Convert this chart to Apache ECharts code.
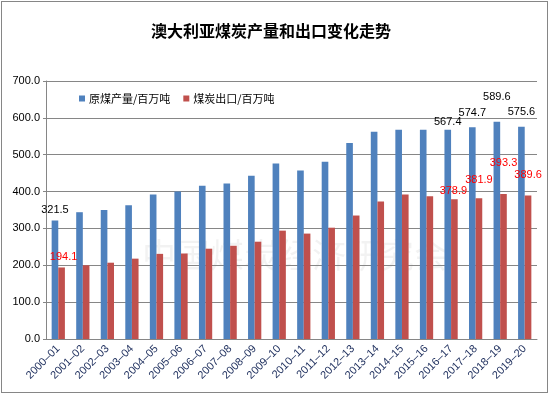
<!DOCTYPE html>
<html><head><meta charset="utf-8">
<script src="https://cdn.jsdelivr.net/npm/echarts@6/dist/echarts.min.js"></script>
<style>html,body{margin:0;padding:0;background:#fff}#c{position:absolute;left:1px;top:1px;width:545px;height:390px;border:1px solid #868686}</style>
</head><body><div id="c"></div>
<script>
var categories = ['2000–01','2001–02','2002–03','2003–04','2004–05','2005–06','2006–07','2007–08','2008–09','2009–10','2010–11','2011–12','2012–13','2013–14','2014–15','2015–16','2016–17','2017–18','2018–19','2019–20'];
var production = [321.5,344,350,363,392,400,416,422,443,476,457,481,532,562,568,568,567.4,574.7,589.6,575.6];
var exports = [194.1,200,207,218,231,232,245,253,264,294,286,302,335,373,392,387,378.9,381.9,393.3,389.6];
var yTicks = [0,100,200,300,400,500,600,700];
var seriesNames = ['原煤产量/百万吨','煤炭出口/百万吨'];

var prodLabelOffsets = {0:[0,-2], 16:[0,1], 17:[0,-6], 18:[0,-16], 19:[0,-6]};
var expLabelOffsets = {0:[2,-2], 16:[-1,0], 17:[0,-10], 18:[0,-23], 19:[0,-12]};

function build(vals, offsets, color) {
  return vals.map(function (v, i) {
    var o = { value: v };
    if (offsets[i]) {
      o.label = { show: true, position: 'top', offset: offsets[i], color: color, fontSize: 11, distance: 3,
        formatter: function (p) { return p.value.toFixed(1); } };
    }
    return o;
  });
}

var chart = echarts.init(document.getElementById('c'));
chart.setOption({
  animation: false,
  title: { text: '澳大利亚煤炭产量和出口变化走势', left: 264, top: 16, textAlign: 'center',
    textStyle: { fontSize: 16, fontWeight: 'bold', color: '#000', fontFamily: 'Noto Sans CJK SC' } },
  legend: { top: 86, left: 72, itemWidth: 6, itemHeight: 6, itemGap: 13, icon: 'rect',
    textStyle: { fontSize: 11, color: '#000', fontFamily: 'Noto Sans CJK SC', padding: [0, 0, 0, -1] },
    data: seriesNames },
  graphic: [{ type: 'text', left: 140, top: 236, z: 0, silent: true,
    style: { text: '中国煤炭经济研究会', fontSize: 34, fill: 'rgba(0,0,0,0.05)', fontFamily: 'Noto Sans CJK SC' } }],
  grid: { left: 44, right: 10, top: 79, bottom: 53 },
  xAxis: { type: 'category', data: categories,
    axisLine: { lineStyle: { color: '#868686' } }, axisTick: { show: false },
    axisLabel: { rotate: 45, interval: 0, fontSize: 11, color: '#1c2d5c', margin: 8, fontFamily: 'Liberation Sans' } },
  yAxis: { type: 'value', min: yTicks[0], max: yTicks[yTicks.length - 1], interval: 100,
    axisLine: { show: true, lineStyle: { color: '#868686' } },
    axisTick: { show: true, length: 3, lineStyle: { color: '#868686' } },
    splitLine: { lineStyle: { color: '#868686' } },
    axisLabel: { fontSize: 11, color: '#000', margin: 6, fontFamily: 'Liberation Sans', formatter: function (v) { return v.toFixed(1); } } },
  series: [
    { name: seriesNames[0], type: 'bar', data: build(production, prodLabelOffsets, '#000'), barWidth: '27%', barGap: '0%',
      itemStyle: { color: '#4F81BD' } },
    { name: seriesNames[1], type: 'bar', data: build(exports, expLabelOffsets, '#FF0000'), barWidth: '27%', barGap: '0%',
      itemStyle: { color: '#C0504D' } }
  ]
});
</script></body></html>
